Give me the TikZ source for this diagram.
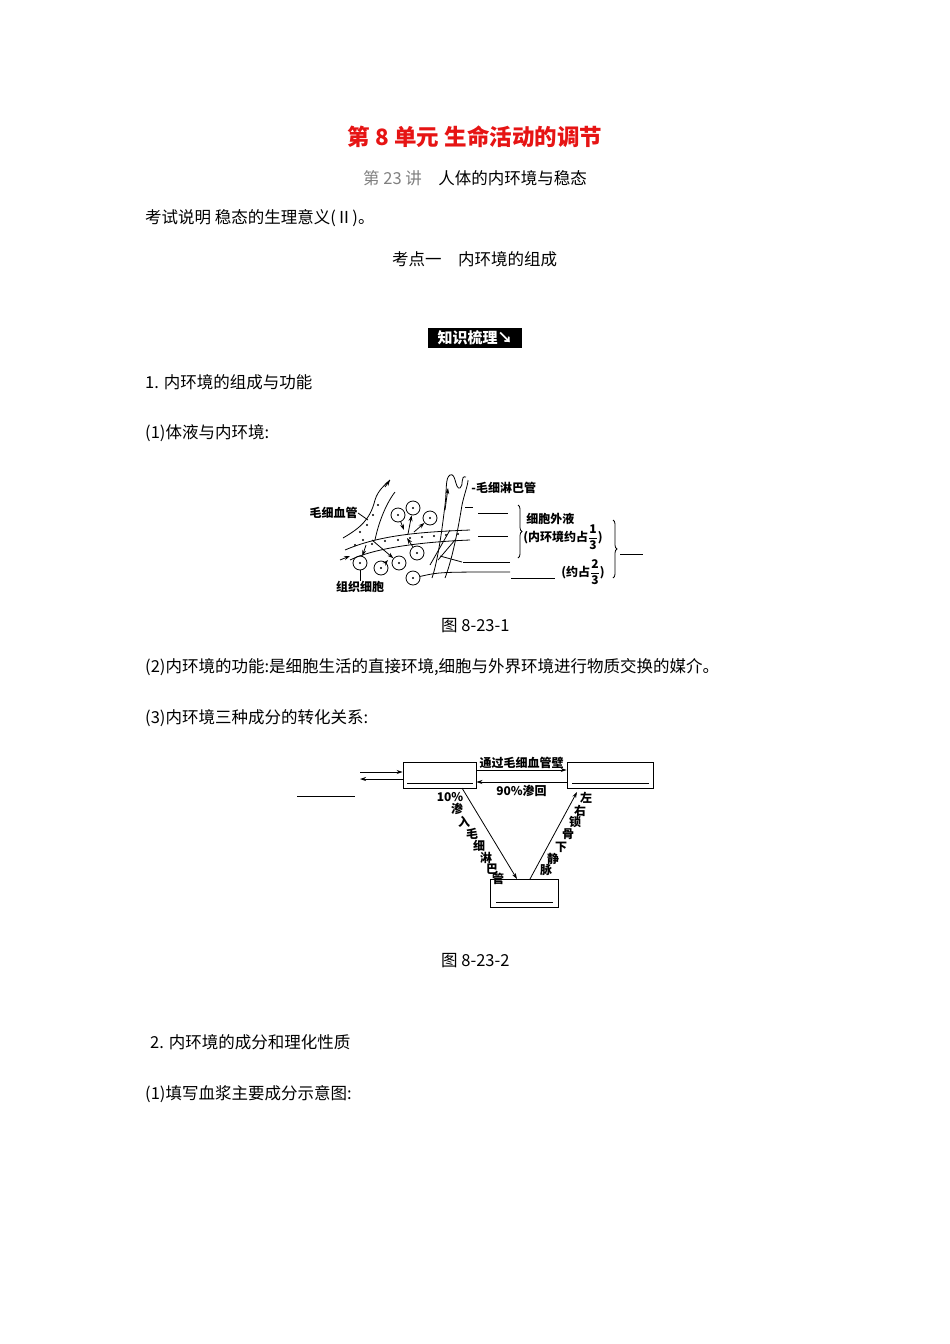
\documentclass[tikz,border=0pt]{standalone}
\usepackage{fontspec}
\setmainfont{Noto Sans CJK SC}
\usetikzlibrary{arrows.meta,decorations.pathreplacing}
\definecolor{titlered}{RGB}{230,20,20}
\begin{document}
\begin{tikzpicture}[x=1pt,y=-1pt,
  body/.style={anchor=west,inner sep=0pt,font=\fontsize{16.5}{19}\selectfont},
  figt/.style={inner sep=0pt,font=\fontsize{12}{13}\selectfont\bfseries},
  blank/.style={line width=0.8pt},
  arr/.style={-{Stealth[length=6pt,width=4pt]},line width=0.8pt},
  cellc/.style={draw,line width=0.8pt,circle,minimum size=14pt,inner sep=0pt},
  boxr/.style={draw,line width=0.9pt,inner sep=0pt}]
\useasboundingbox (0,0) rectangle (950,1344);
\node[inner sep=0pt,text=titlered,font=\fontsize{22.5}{25}\selectfont\bfseries] (title) at (475,137) {第 8 单元\ 生命活动的调节};
\node[body] (lec) at (363,178) {\textcolor{gray}{第 23 讲}\quad 人体的内环境与稳态};
\node[body] (exam) at (145,218) {考试说明\ 稳态的生理意义(Ⅱ)。};
\node[body] (kd) at (392,259) {考点一\quad 内环境的组成};
\node[fill=black,text=white,inner sep=2pt,minimum width=94pt,minimum height=20pt,font=\fontsize{15}{18}\selectfont\bfseries] (badge) at (475,338) {知识梳理↘};
\node[body] (s1) at (145,382) {1. 内环境的组成与功能};
\node[body] (s11) at (145,433) {(1)体液与内环境:};
\node[body] (cap1) at (441,626) {图 8-23-1};
\node[body] (s12) at (145,667) {(2)内环境的功能:是细胞生活的直接环境,细胞与外界环境进行物质交换的媒介。};
\node[body] (s13) at (145,718) {(3)内环境三种成分的转化关系:};
\node[body] (cap2) at (441,961) {图 8-23-2};
\node[body] (s2) at (150,1042) {2. 内环境的成分和理化性质};
\node[body] (s21) at (145,1094) {(1)填写血浆主要成分示意图:};

% ---------- Figure 1 ----------
\begin{scope}[line width=0.8pt]
\draw (345,550) .. controls (380,535) and (420,532) .. (470,530);
\draw (350,560) .. controls (375,548) and (420,542) .. (470,540);
\draw (343,538) .. controls (360,528) and (370,520) .. (375,500) .. controls (378,490) and (385,485) .. (390,480);
\draw (375,540) .. controls (378,525) and (385,505) .. (395,492);
\draw[arr] (385,487) -- (390,480);
\draw[arr] (340,560) -- (350,556);
\foreach \p in {(378,505),(373,515),(367,525),(360,532),(363,540),(372,544),(385,541),(398,540),(410,538),(422,537),(434,536),(446,535),(458,534),(355,545)} \fill \p circle (1.2pt);
\draw (432,578) .. controls (438,560) and (442,530) .. (445,505) .. controls (447,490) and (445,478) .. (450,475) .. controls (456,472) and (455,490) .. (460,488) .. controls (464,486) and (460,475) .. (466,477);
\draw (445,578) .. controls (452,560) and (458,530) .. (462,505) .. controls (464,495) and (468,485) .. (468,480);
\draw (438,560) -- (455,540); \draw (430,565) -- (450,530);
\draw[arr] (445,510) -- (448,488);
\foreach \n/\p in {c1/{(398,515)},c2/{(413,508)},c3/{(430,518)},c4/{(360,563)},c5/{(381,568)},c6/{(399,563)},c7/{(417,553)},c8/{(413,578)}}{
  \node[cellc] (\n) at \p {}; \fill \p circle (1.2pt);}
\draw[arr] (c1) -- (404,530);
\draw[arr] (408,534) -- (c2);
\draw[arr] (414,532) -- (c3);
\draw[arr] (366,545) -- (c4);
\draw[arr] (372,540) -- (c6);
\draw[arr] (c5) -- (388,560);
\draw[arr] (c7) -- (407,538);
\draw (c8) .. controls (440,572) .. (510,572);
\node[figt,anchor=east] (mxg) at (358,513) {毛细血管};
\draw (mxg.east) -- (368,520);
\node[figt,anchor=west] (mlb) at (471,488) {-毛细淋巴管};
\node[figt,anchor=north] (zz) at (360,581) {组织细胞};
\draw (zz.north) -- (360,570);
\draw[blank] (478,513) -- (508,513);
\draw[blank] (478,536) -- (508,536);
\draw[blank] (463,562) -- (510,562);
\draw[blank] (440,556) -- (462,562);
\draw[blank] (511,578) -- (555,578);
\draw[blank] (465,507) -- (473,507);
\draw[decorate,decoration={brace,amplitude=4pt},line width=0.8pt] (518,505) -- (518,558);
\node[figt,anchor=west] (xbw) at (526,519) {细胞外液};
\node[figt,anchor=west] (nhj) at (523,537) {(内环境约占$\displaystyle\frac{\mathbf 1}{\mathbf 3}$)};
\node[figt,anchor=west] (yz) at (561,572) {(约占$\displaystyle\frac{\mathbf 2}{\mathbf 3}$)};
\draw[decorate,decoration={brace,amplitude=4pt},line width=0.8pt] (613,520) -- (613,578);
\draw[blank] (620,554) -- (643,554);
\end{scope}

% ---------- Figure 2 ----------
\node[boxr,minimum width=73pt,minimum height=26pt] (A) at (439.5,775) {};
\node[boxr,minimum width=86pt,minimum height=26pt] (B) at (610,775) {};
\node[boxr,minimum width=68pt,minimum height=28pt] (C) at (524,893) {};
\draw[blank] (407,783) -- (473,783);
\draw[blank] (572,783) -- (649,783);
\draw[blank] (496,902) -- (553,902);
\coordinate (L1) at (360,772);
\coordinate (L2) at (360,779);
\draw[arr] (L1) -- (A.west |- L1);
\draw[arr] (A.west |- L2) -- (L2);
\draw[blank] (297,796) -- (355,796);
\draw[arr] (A.east |- 0,770) -- node[figt,above=1pt] {通过毛细血管壁} (B.west |- 0,770);
\draw[arr] (B.west |- 0,782) -- node[figt,below=3pt] {90\%渗回} (A.east |- 0,782);
\draw[arr] (462,788) -- (517,879);
\draw[arr] (530,879) -- (577,792);
\node[figt] (p10) at (450,797) {10\%};
\foreach \t/\x/\y in {渗/457/809,入/464/822,毛/472/834,细/479/846,淋/486/858,巴/492/869,管/498/879}
  \node[figt] at (\x,\y) {\t};
\foreach \t/\x/\y in {左/586/798,右/580/811,锁/575/822,骨/568/834,下/561/847,静/553/859,脉/546/870}
  \node[figt] at (\x,\y) {\t};
\end{tikzpicture}
\end{document}
